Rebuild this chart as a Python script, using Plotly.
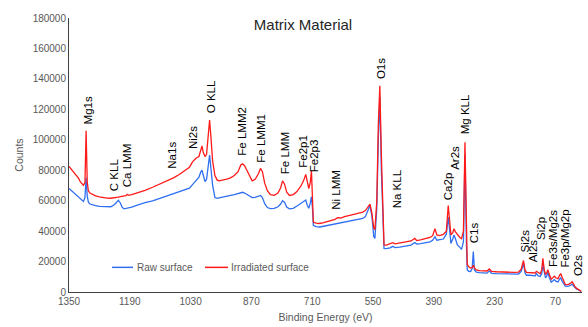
import plotly.graph_objects as go

# ---------------- data ----------------
binding_energy = [
    1350, 1345, 1340, 1335, 1330, 1325, 1320, 1315, 1312, 1308, 1305, 1302, 1299, 1295, 1290,
    1280, 1270, 1260, 1250, 1240, 1230, 1225, 1220, 1215, 1210, 1205, 1200, 1197, 1193, 1185,
    1170, 1150, 1130, 1110, 1090, 1075, 1060, 1045, 1033, 1025, 1015, 1008, 1003, 1000, 997,
    992, 988, 984, 980, 976, 972, 966, 960, 955, 945, 935, 925, 915, 905, 898,
    893, 888, 882, 875, 868, 860, 852, 846, 841, 835, 828, 820, 810, 800, 793,
    788, 783, 777, 770, 760, 750, 740, 732, 727, 723, 719, 715, 712, 709, 707,
    700, 690, 680, 670, 660, 650, 643, 635, 625, 615, 605, 595, 585, 577, 570,
    563, 558, 553, 548, 545, 540, 536, 532, 528, 524, 521, 515, 505, 498, 492,
    480, 465, 450, 440, 435, 425, 410, 400, 393, 387, 382, 375, 365, 357, 352,
    348, 345, 340, 337, 333, 328, 322, 317, 312, 308, 304, 302, 298, 293, 289,
    286, 283, 278, 270, 260, 250, 244, 238, 225, 210, 195, 180, 167, 160, 154,
    150, 146, 138, 130, 123, 120, 115, 110, 106, 103, 99, 96, 93, 90, 86,
    81, 77, 73, 68, 63, 59, 56, 52, 47, 44, 40, 35, 30, 26, 22,
    18, 14, 10, 6, 2,
]

irradiated_counts = [
    82500, 81000, 79800, 78500, 76800, 74800, 72300, 70500, 70000, 72000, 106000, 72000, 66500, 65000, 64300,
    63200, 62500, 62000, 61700, 61600, 61800, 62000, 62300, 62600, 62900, 63000, 63300, 64200, 63500, 64000,
    65000, 66800, 68800, 71000, 73200, 75000, 77200, 79800, 82000, 85500, 88000, 89000, 94000, 96000, 92000,
    89000, 90500, 100000, 113000, 100000, 86000, 76500, 73500, 73000, 73500, 74200, 75000, 76500, 79000, 83500,
    84200, 83000, 80000, 76000, 73000, 74000, 77500, 81200, 79000, 71500, 66500, 64000, 63500, 65000, 68500,
    73000, 71000, 65500, 63400, 64000, 66000, 69500, 73500, 77300, 72500, 68000, 72000, 79400, 60000, 46000,
    45200, 45000, 45600, 46300, 47000, 47700, 48800, 48600, 49500, 50300, 50900, 51400, 52000, 52500, 53500,
    56000, 57800, 52000, 42000, 41000, 60000, 110000, 135500, 90000, 45000, 31000, 30800, 31500, 32400, 31600,
    32000, 32600, 33500, 35200, 33800, 34200, 35000, 35800, 37000, 41600, 37500, 37000, 37800, 40000, 56800,
    45000, 37600, 39000, 41600, 39500, 37600, 36000, 35000, 40000, 98400, 40000, 18100, 16500, 15700, 16000,
    17500, 15800, 14500, 14000, 13700, 13800, 15100, 13600, 13300, 13100, 13000, 12900, 13100, 15000, 20700,
    14500, 12900, 12700, 12500, 12500, 13600, 12500, 12000, 14500, 22200, 14000, 11650, 12500, 14700, 11500,
    8400, 9300, 10400, 9200, 8800, 11000, 12100, 9500, 6000, 5000, 4800, 5000, 5800, 6700, 5200,
    3200, 2400, 2000, 1200, 400,
]

raw_counts = [
    68000, 66800, 66000, 64800, 63700, 62500, 61200, 60000, 59500, 62000, 75000, 63000, 59000, 57800, 57300,
    56800, 56200, 56000, 55800, 56000, 57500, 59000, 60200, 58500, 55600, 54600, 54800, 55000, 55300, 55800,
    57000, 58700, 59800, 61500, 63300, 64800, 66000, 67300, 68200, 70500, 73500, 75500, 79000, 80000, 77000,
    72500, 74000, 82000, 90000, 80000, 70000, 62000, 61500, 61800, 62500, 63000, 63500, 64000, 64500, 65300,
    65500, 65000, 64000, 63000, 62000, 62200, 63000, 63400, 62000, 58000, 55500, 54800, 55000, 56000, 57800,
    60000, 59000, 55800, 54600, 55000, 56500, 58000, 59500, 60400, 57000, 55000, 58500, 62600, 54000, 43800,
    43000, 42700, 43200, 43700, 44200, 44800, 45500, 45600, 46300, 46800, 47300, 47700, 48000, 48300, 49500,
    53500, 56800, 50000, 36500, 35200, 55000, 100000, 128000, 80000, 40000, 28700, 28500, 29000, 30000, 29200,
    29500, 30000, 30800, 32500, 31500, 31800, 32500, 33000, 34000, 36300, 34000, 34200, 34800, 38000, 49200,
    40000, 31900, 35000, 37400, 35000, 30900, 29500, 28000, 33000, 90000, 30000, 14500, 13600, 13500, 15500,
    26500, 14500, 13000, 12700, 12500, 12400, 13900, 12300, 12100, 11900, 11700, 11600, 11800, 13500, 19000,
    12500, 11000, 11000, 10800, 10600, 12100, 10600, 10200, 12000, 17900, 11500, 9300, 10300, 12950, 9500,
    6500, 7300, 8200, 7000, 6600, 8500, 9300, 7000, 4500, 3900, 3700, 3800, 4400, 5000, 3900,
    2500, 1800, 1500, 800, 300,
]

series_names = ["Raw surface", "Irradiated surface"]
peak_labels = [
    "Mg1s", "C KLL", "Ca LMM", "Na1s", "Ni2s", "O KLL", "Fe LMM2", "Fe LMM1", "Fe LMM",
    "Fe2p1", "Fe2p3", "Ni LMM", "O1s", "Na KLL", "Ca2p", "Ar2s", "Mg KLL", "C1s",
    "Si2s", "Al2s", "Si2p", "Fe3s/Mg2s", "Fe3p/Mg2p", "O2s",
]
x_tick_values = [1350, 1190, 1030, 870, 710, 550, 390, 230, 70]
y_tick_values = [0, 20000, 40000, 60000, 80000, 100000, 120000, 140000, 160000, 180000]

# label anchor points (bottom end of each rotated label), layout only
label_anchor_x = [1300, 1231, 1197, 1078, 1025, 976, 894, 844, 783,
                  733, 706, 646, 530, 488, 353, 334, 308, 284,
                  149, 128, 106, 76, 44, 12]
label_anchor_y = [108800, 64750, 67300, 79600, 92600, 115900, 88100, 83500, 76400,
                  80300, 77500, 52400, 138600, 53700, 58900, 79000, 102300, 30400,
                  24600, 18100, 33000, 14900, 14900, 9100]

BLUE = "#2f6ff0"
RED = "#ff1a1a"
FONT = "Liberation Sans, Arial, sans-serif"
GREY = "#595959"

fig = go.Figure()
fig.add_trace(go.Scatter(x=binding_energy, y=raw_counts, mode="lines", name=series_names[0],
                         line=dict(color=BLUE, width=1.3), showlegend=False))
fig.add_trace(go.Scatter(x=binding_energy, y=irradiated_counts, mode="lines", name=series_names[1],
                         line=dict(color=RED, width=1.3), showlegend=False))

annotations = []
for txt, ax, ay in zip(peak_labels, label_anchor_x, label_anchor_y):
    annotations.append(dict(x=ax, y=ay, xref="x", yref="y", text=txt, showarrow=False,
                            textangle=-90, xanchor="center", yanchor="bottom",
                            font=dict(family=FONT, size=11.5, color="#000000")))

# legend drawn inside plot (Excel-style)
PL, PR = 69, 582
def px(xp):
    return (xp - PL) / (PR - PL)
leg_y = (296 - 271) / 278.0
shapes = [
    dict(type="line", xref="paper", yref="paper", x0=px(112), x1=px(133), y0=leg_y, y1=leg_y,
         line=dict(color=BLUE, width=1.5)),
    dict(type="line", xref="paper", yref="paper", x0=px(205), x1=px(228), y0=leg_y, y1=leg_y,
         line=dict(color=RED, width=1.5)),
]
annotations.append(dict(x=px(135), y=leg_y, xref="paper", yref="paper", text=series_names[0],
                        showarrow=False, xanchor="left", yanchor="middle",
                        font=dict(family=FONT, size=10, color=GREY)))
annotations.append(dict(x=px(229), y=leg_y, xref="paper", yref="paper", text=series_names[1],
                        showarrow=False, xanchor="left", yanchor="middle",
                        font=dict(family=FONT, size=10, color=GREY)))

fig.update_layout(
    width=588, height=327,
    margin=dict(l=69, r=6, t=18, b=31),
    paper_bgcolor="white", plot_bgcolor="white",
    font=dict(family=FONT, size=10, color=GREY),
    title=dict(text="Matrix Material", x=303 / 588, xref="container", xanchor="center",
               y=1 - 25 / 327, yref="container", yanchor="middle",
               font=dict(family=FONT, size=15, color="#262626")),
    annotations=annotations,
    shapes=shapes,
    showlegend=False,
)
fig.update_xaxes(range=[1350, 0], tickvals=x_tick_values, ticktext=[str(v) for v in x_tick_values],
                 showgrid=False, zeroline=False, showline=True, linecolor="#404040", linewidth=1,
                 ticks="", tickfont=dict(family=FONT, size=10, color=GREY),
                 title=dict(text="Binding Energy (eV)", standoff=7,
                            font=dict(family=FONT, size=10.5, color=GREY)))
fig.update_yaxes(range=[0, 180000], tickvals=y_tick_values, tickformat="d",
                 showgrid=False, zeroline=False, showline=True, linecolor="#404040", linewidth=1,
                 ticks="", tickfont=dict(family=FONT, size=10, color=GREY),
                 title=dict(text="Counts", standoff=6,
                            font=dict(family=FONT, size=10.5, color=GREY)))

fig.write_html("out.html")
